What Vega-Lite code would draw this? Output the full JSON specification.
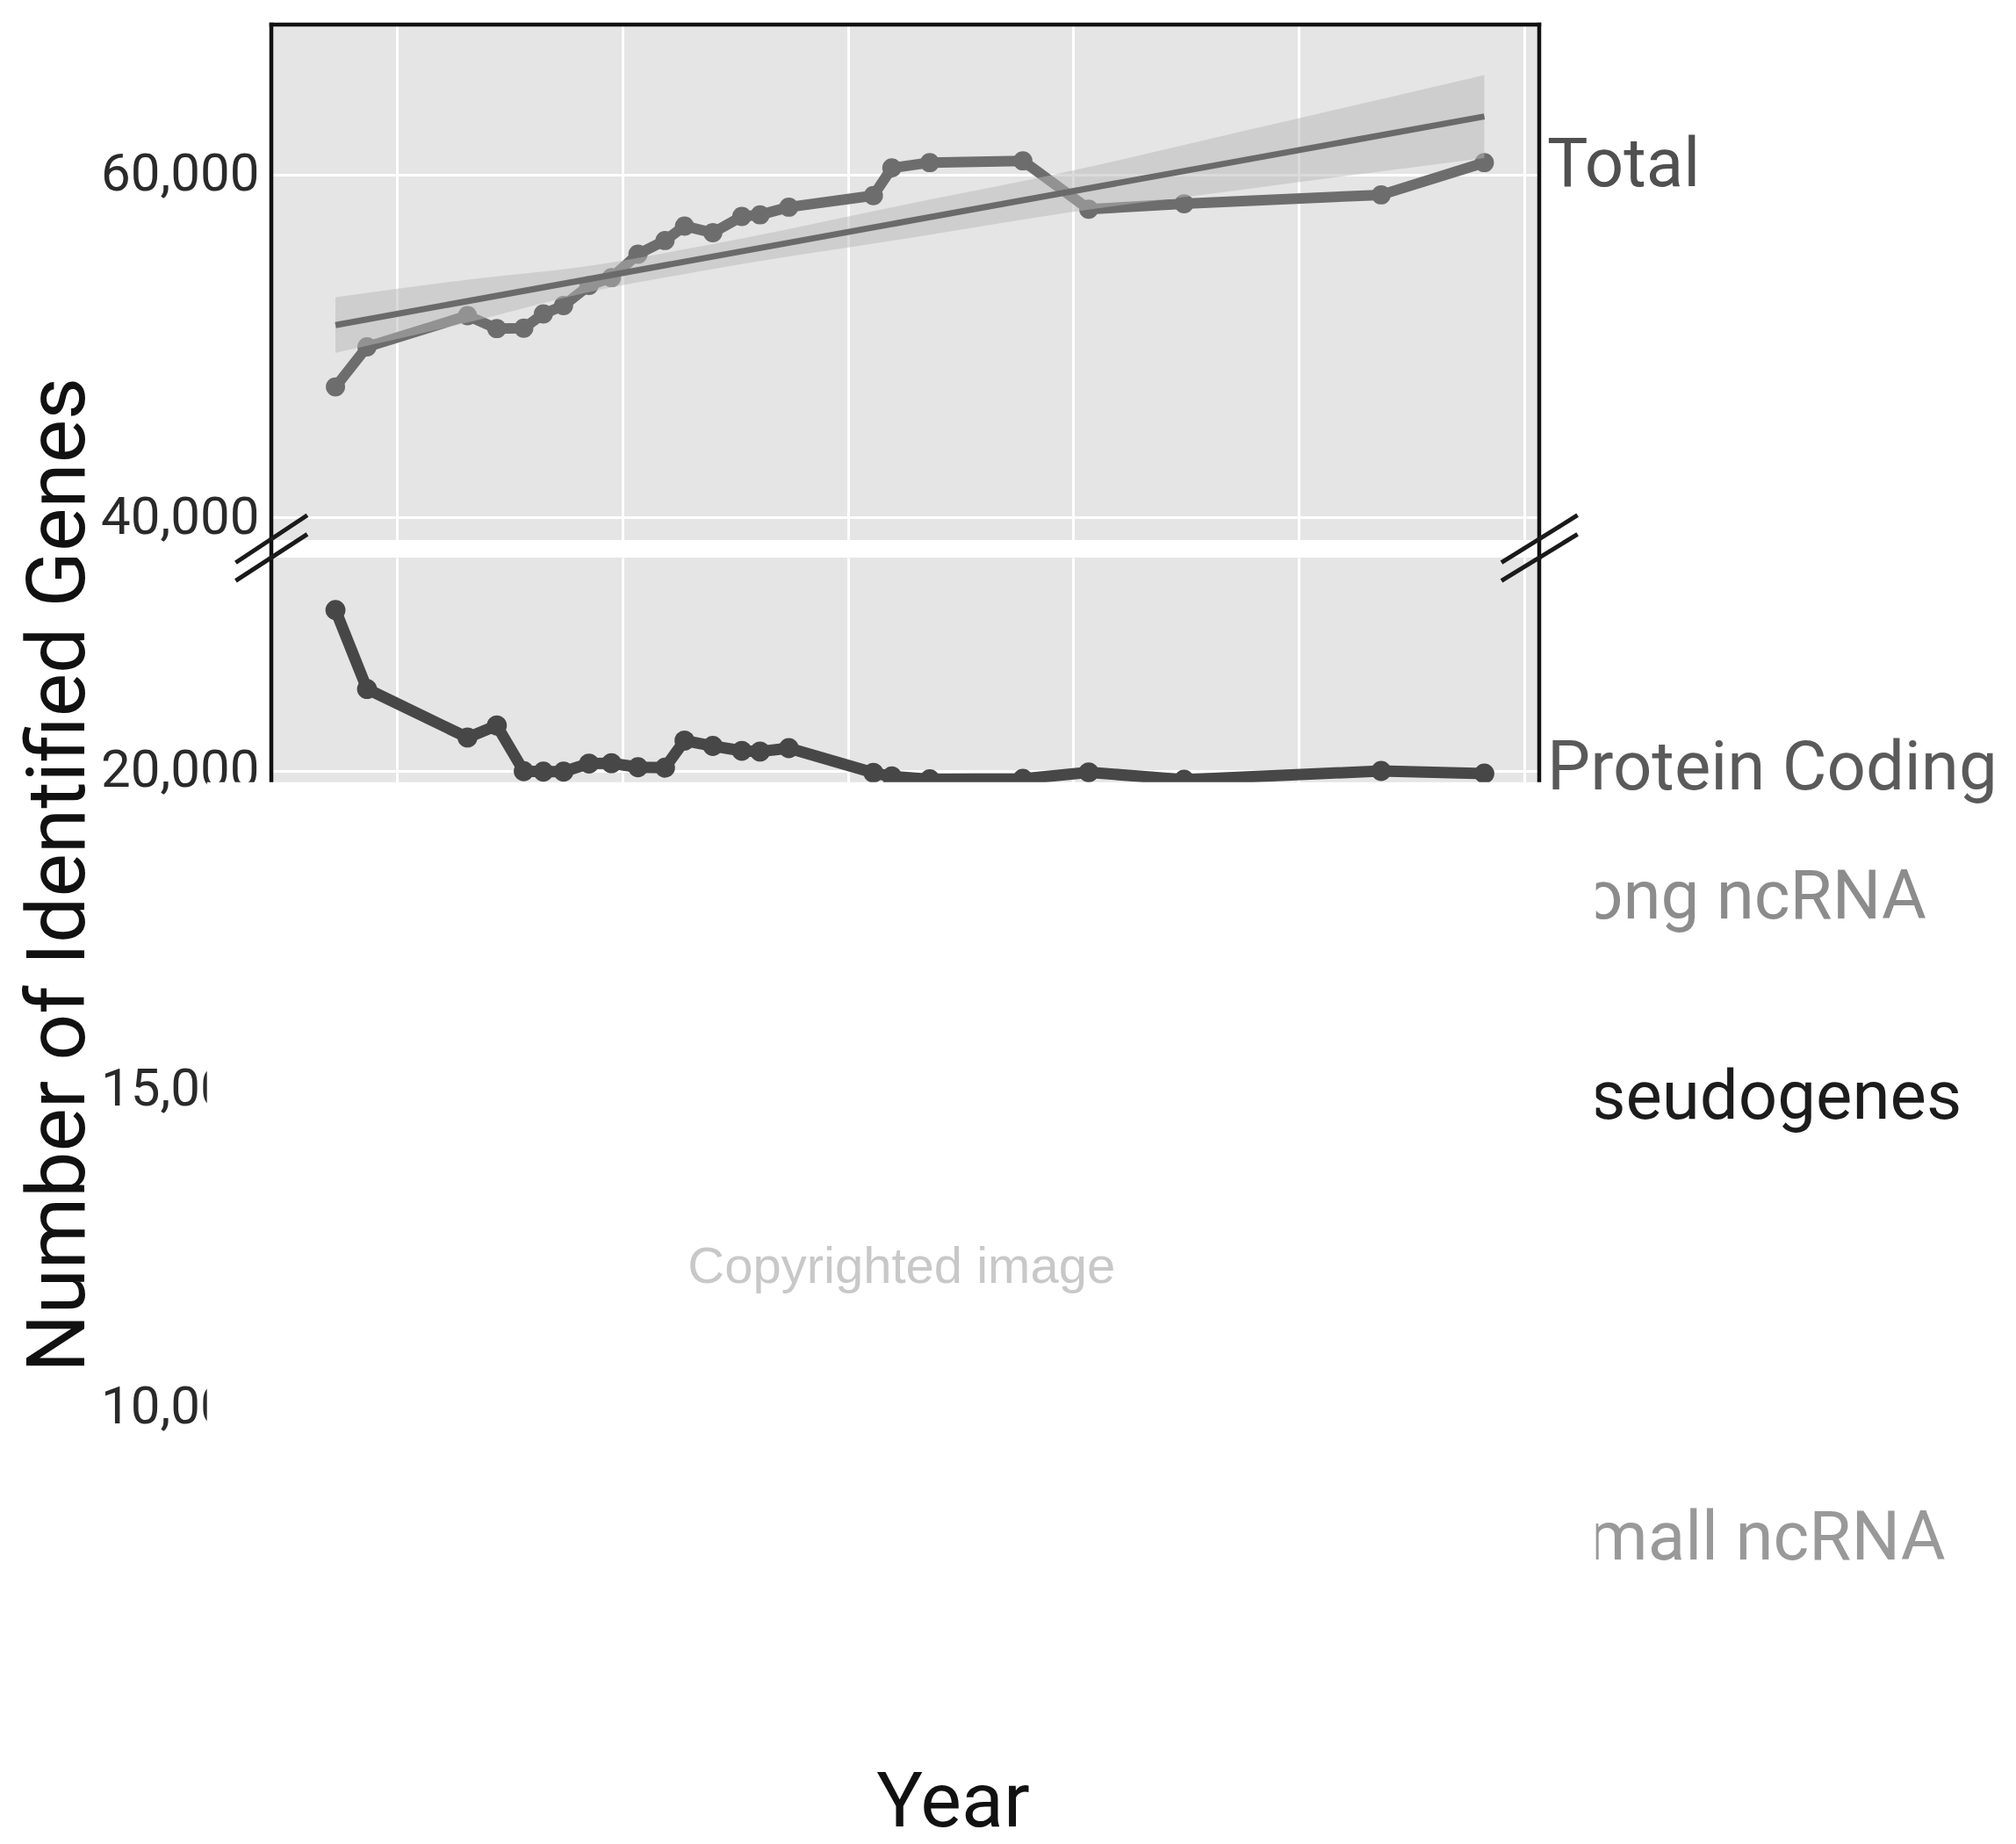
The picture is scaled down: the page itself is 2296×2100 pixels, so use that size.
{
  "$schema": "https://vega.github.io/schema/vega-lite/v6.json",
  "background": "white",
  "padding": {"left": 20, "top": 24, "right": 5, "bottom": 4},
  "bounds": "flush",
  "spacing": 20,
  "config": {
    "view": {"fill": "#e5e5e5", "stroke": null},
    "font": "Roboto",
    "axis": {
      "labelFont": "Roboto",
      "titleFont": "Roboto",
      "gridColor": "#ffffff",
      "gridWidth": 3,
      "gridOpacity": 1,
      "ticks": false,
      "domain": false,
      "labelColor": "#2a2a2a",
      "labelFontSize": 60,
      "labelLimit": 500,
      "labelPadding": 14,
      "titleColor": "#111111",
      "titleFontWeight": "normal"
    }
  },
  "datasets": {
    "genes": [
      {"year": 2005.455, "series": "Total", "genes": 47610},
      {"year": 2005.735, "series": "Total", "genes": 49950},
      {"year": 2006.626, "series": "Total", "genes": 51765},
      {"year": 2006.886, "series": "Total", "genes": 51014},
      {"year": 2007.125, "series": "Total", "genes": 51035},
      {"year": 2007.299, "series": "Total", "genes": 51868},
      {"year": 2007.478, "series": "Total", "genes": 52350},
      {"year": 2007.704, "series": "Total", "genes": 53525},
      {"year": 2007.903, "series": "Total", "genes": 53985},
      {"year": 2008.138, "series": "Total", "genes": 55350},
      {"year": 2008.378, "series": "Total", "genes": 56148},
      {"year": 2008.551, "series": "Total", "genes": 56990},
      {"year": 2008.802, "series": "Total", "genes": 56600},
      {"year": 2009.059, "series": "Total", "genes": 57551},
      {"year": 2009.221, "series": "Total", "genes": 57646},
      {"year": 2009.476, "series": "Total", "genes": 58094},
      {"year": 2010.226, "series": "Total", "genes": 58765},
      {"year": 2010.390, "series": "Total", "genes": 60380},
      {"year": 2010.726, "series": "Total", "genes": 60692},
      {"year": 2011.552, "series": "Total", "genes": 60794},
      {"year": 2012.136, "series": "Total", "genes": 57976},
      {"year": 2012.982, "series": "Total", "genes": 58289},
      {"year": 2014.730, "series": "Total", "genes": 58811},
      {"year": 2015.645, "series": "Total", "genes": 60692},
      {"year": 2005.455, "series": "Protein Coding", "genes": 22521},
      {"year": 2005.735, "series": "Protein Coding", "genes": 21280},
      {"year": 2006.626, "series": "Protein Coding", "genes": 20518},
      {"year": 2006.886, "series": "Protein Coding", "genes": 20708},
      {"year": 2007.125, "series": "Protein Coding", "genes": 19990},
      {"year": 2007.299, "series": "Protein Coding", "genes": 19983},
      {"year": 2007.478, "series": "Protein Coding", "genes": 19983},
      {"year": 2007.704, "series": "Protein Coding", "genes": 20110},
      {"year": 2007.903, "series": "Protein Coding", "genes": 20115},
      {"year": 2008.138, "series": "Protein Coding", "genes": 20052},
      {"year": 2008.378, "series": "Protein Coding", "genes": 20045},
      {"year": 2008.551, "series": "Protein Coding", "genes": 20470},
      {"year": 2008.802, "series": "Protein Coding", "genes": 20386},
      {"year": 2009.059, "series": "Protein Coding", "genes": 20310},
      {"year": 2009.221, "series": "Protein Coding", "genes": 20298},
      {"year": 2009.476, "series": "Protein Coding", "genes": 20352},
      {"year": 2010.226, "series": "Protein Coding", "genes": 19965},
      {"year": 2010.390, "series": "Protein Coding", "genes": 19907},
      {"year": 2010.726, "series": "Protein Coding", "genes": 19862},
      {"year": 2011.552, "series": "Protein Coding", "genes": 19869},
      {"year": 2012.136, "series": "Protein Coding", "genes": 19972},
      {"year": 2012.982, "series": "Protein Coding", "genes": 19855},
      {"year": 2014.730, "series": "Protein Coding", "genes": 19993},
      {"year": 2015.645, "series": "Protein Coding", "genes": 19952}
    ],
    "fit_band": [
      {"year": 2005.455, "lower": 49595, "upper": 52835},
      {"year": 2006.679, "lower": 51446, "upper": 53906},
      {"year": 2007.654, "lower": 53065, "upper": 54615},
      {"year": 2008.696, "lower": 54364, "upper": 55804},
      {"year": 2010.575, "lower": 56327, "upper": 58327},
      {"year": 2011.967, "lower": 57789, "upper": 60189},
      {"year": 2013.5, "lower": 59119, "upper": 62519},
      {"year": 2015.645, "lower": 60960, "upper": 65800}
    ],
    "fit_line": [
      {"year": 2005.455, "fit": 51215},
      {"year": 2015.645, "fit": 63380}
    ],
    "labels": [
      {"series": "Total", "label_genes": 60497},
      {"series": "Protein Coding", "label_genes": 20021},
      {"series": "Long ncRNA", "label_genes": 17999},
      {"series": "Pseudogenes", "label_genes": 14848},
      {"series": "Small ncRNA", "label_genes": 7920}
    ],
    "breaks": [
      {"x_start": 2004.570, "x_end": 2005.205, "y_start": 23266, "y_end": 24011},
      {"x_start": 2004.570, "x_end": 2005.205, "y_start": 22982, "y_end": 23712},
      {"x_start": 2015.797, "x_end": 2016.472, "y_start": 23266, "y_end": 24011},
      {"x_start": 2015.797, "x_end": 2016.472, "y_start": 22982, "y_end": 23712}
    ]
  },
  "vconcat": [
    {
      "width": 1444,
      "height": 587,
      "layer": [
        {
          "data": {"name": "genes"},
          "transform": [{"filter": "datum.series === 'Total'"}],
          "mark": {"type": "line", "color": "#6d6d6d", "strokeWidth": 12, "strokeJoin": "round",
                   "point": {"filled": true, "size": 480, "color": "#6d6d6d"}},
          "encoding": {
            "x": {"field": "year", "type": "quantitative",
                  "scale": {"domain": [2004.886, 2016.132], "nice": false, "zero": false},
                  "axis": {"values": [2006, 2008, 2010, 2012, 2014, 2016], "labels": false, "title": null}},
            "y": {"field": "genes", "type": "quantitative",
                  "scale": {"domain": [38680, 68740], "nice": false, "zero": false},
                  "axis": {"values": [40000, 60000], "title": null}}
          }
        },
        {
          "data": {"name": "fit_band"},
          "mark": {"type": "area", "color": "#b8b8b8", "opacity": 0.5, "interpolate": "monotone"},
          "encoding": {
            "x": {"field": "year", "type": "quantitative"},
            "y": {"field": "lower", "type": "quantitative"},
            "y2": {"field": "upper"}
          }
        },
        {
          "data": {"name": "fit_line"},
          "mark": {"type": "line", "color": "#6a6a6a", "strokeWidth": 7},
          "encoding": {
            "x": {"field": "year", "type": "quantitative"},
            "y": {"field": "fit", "type": "quantitative"}
          }
        },
        {
          "data": {"name": "labels"},
          "transform": [{"filter": "datum.series === 'Total'"}],
          "mark": {"type": "text", "align": "left", "baseline": "middle", "dx": 9, "fontSize": 78, "font": "Roboto"},
          "encoding": {
            "x": {"datum": 2016.132, "type": "quantitative"},
            "y": {"field": "label_genes", "type": "quantitative"},
            "text": {"field": "series"},
            "color": {"field": "series", "type": "nominal", "legend": null,
                      "scale": {"domain": ["Total", "Protein Coding", "Long ncRNA", "Pseudogenes", "Small ncRNA"],
                                "range": ["#505050", "#5a5a5a", "#8c8c8c", "#1c1c1c", "#999999"]}}
          }
        },
        {
          "data": {"values": [{}]},
          "mark": {"type": "rule", "color": "#111111", "strokeWidth": 4.5, "strokeCap": "square"},
          "encoding": {
            "x": {"datum": 2004.886, "type": "quantitative"},
            "x2": {"datum": 2016.132},
            "y": {"datum": 68740, "type": "quantitative"}
          }
        },
        {
          "data": {"values": [{}]},
          "mark": {"type": "rule", "color": "#111111", "strokeWidth": 4.5, "strokeCap": "square"},
          "encoding": {
            "x": {"datum": 2004.886, "type": "quantitative"},
            "y": {"datum": 68740, "type": "quantitative"},
            "y2": {"datum": 37654}
          }
        },
        {
          "data": {"values": [{}]},
          "mark": {"type": "rule", "color": "#111111", "strokeWidth": 4.5, "strokeCap": "square"},
          "encoding": {
            "x": {"datum": 2016.132, "type": "quantitative"},
            "y": {"datum": 68740, "type": "quantitative"},
            "y2": {"datum": 37654}
          }
        }
      ]
    },
    {
      "width": 1444,
      "height": 1330,
      "layer": [
        {
          "data": {"name": "genes"},
          "transform": [{"filter": "datum.series === 'Protein Coding'"}],
          "mark": {"type": "line", "color": "#474747", "strokeWidth": 13, "strokeJoin": "round",
                   "point": {"filled": true, "size": 520, "color": "#474747"}},
          "encoding": {
            "x": {"field": "year", "type": "quantitative",
                  "scale": {"domain": [2004.886, 2016.132], "nice": false, "zero": false},
                  "axis": {"values": [2006, 2008, 2010, 2012, 2014, 2016], "labels": false,
                           "title": "Year", "titleFontSize": 88, "titleX": 776, "titleY": 114,
                           "titleAlign": "center", "titleBaseline": "alphabetic", "titleAnchor": null}},
            "y": {"field": "genes", "type": "quantitative",
                  "scale": {"domain": [5000, 23345], "nice": false, "zero": false},
                  "axis": {"values": [10000, 15000, 20000],
                           "title": "Number of Identified Genes", "titleFontSize": 93,
                           "titleX": -214, "titleY": 361, "titleAngle": 270,
                           "titleAlign": "center", "titleBaseline": "alphabetic"}}
          }
        },
        {
          "data": {"values": [{}]},
          "mark": {"type": "rule", "color": "#111111", "strokeWidth": 4.5},
          "encoding": {
            "x": {"datum": 2004.886, "type": "quantitative"},
            "y": {"datum": 23345, "type": "quantitative"},
            "y2": {"datum": 5000}
          }
        },
        {
          "data": {"values": [{}]},
          "mark": {"type": "rule", "color": "#111111", "strokeWidth": 4.5},
          "encoding": {
            "x": {"datum": 2016.132, "type": "quantitative"},
            "y": {"datum": 23345, "type": "quantitative"},
            "y2": {"datum": 5000}
          }
        },
        {
          "data": {"name": "labels"},
          "transform": [{"filter": "datum.series !== 'Total' && datum.series !== 'Protein Coding'"}],
          "mark": {"type": "text", "align": "left", "baseline": "middle", "dx": 9, "fontSize": 78, "font": "Roboto"},
          "encoding": {
            "x": {"datum": 2016.132, "type": "quantitative"},
            "y": {"field": "label_genes", "type": "quantitative"},
            "text": {"field": "series"},
            "color": {"field": "series", "type": "nominal", "legend": null,
                      "scale": {"domain": ["Total", "Protein Coding", "Long ncRNA", "Pseudogenes", "Small ncRNA"],
                                "range": ["#505050", "#5a5a5a", "#8c8c8c", "#1c1c1c", "#999999"]}}
          }
        },
        {
          "data": {"values": [{}]},
          "mark": {"type": "rect", "color": "#ffffff", "opacity": 1},
          "encoding": {
            "x": {"datum": 2004.315, "type": "quantitative"},
            "x2": {"datum": 2016.636},
            "y": {"datum": 19818, "type": "quantitative"},
            "y2": {"datum": 4700}
          }
        },
        {
          "data": {"values": [{"note": "Copyrighted image"}]},
          "mark": {"type": "text", "align": "center", "baseline": "middle", "fontSize": 58,
                   "font": "'Liberation Sans Narrow', 'Liberation Sans', sans-serif", "color": "#c8c8c8"},
          "encoding": {
            "x": {"datum": 2010.476, "type": "quantitative"},
            "y": {"datum": 12191, "type": "quantitative"},
            "text": {"field": "note"}
          }
        },
        {
          "data": {"name": "labels"},
          "transform": [{"filter": "datum.series === 'Protein Coding'"}],
          "mark": {"type": "text", "align": "left", "baseline": "middle", "dx": 9, "fontSize": 78, "font": "Roboto"},
          "encoding": {
            "x": {"datum": 2016.132, "type": "quantitative"},
            "y": {"field": "label_genes", "type": "quantitative"},
            "text": {"field": "series"},
            "color": {"field": "series", "type": "nominal", "legend": null,
                      "scale": {"domain": ["Total", "Protein Coding", "Long ncRNA", "Pseudogenes", "Small ncRNA"],
                                "range": ["#505050", "#5a5a5a", "#8c8c8c", "#1c1c1c", "#999999"]}}
          }
        },
        {
          "data": {"name": "breaks"},
          "mark": {"type": "rule", "color": "#1a1a1a", "strokeWidth": 5},
          "encoding": {
            "x": {"field": "x_start", "type": "quantitative"},
            "x2": {"field": "x_end"},
            "y": {"field": "y_start", "type": "quantitative"},
            "y2": {"field": "y_end"}
          }
        }
      ]
    }
  ]
}
